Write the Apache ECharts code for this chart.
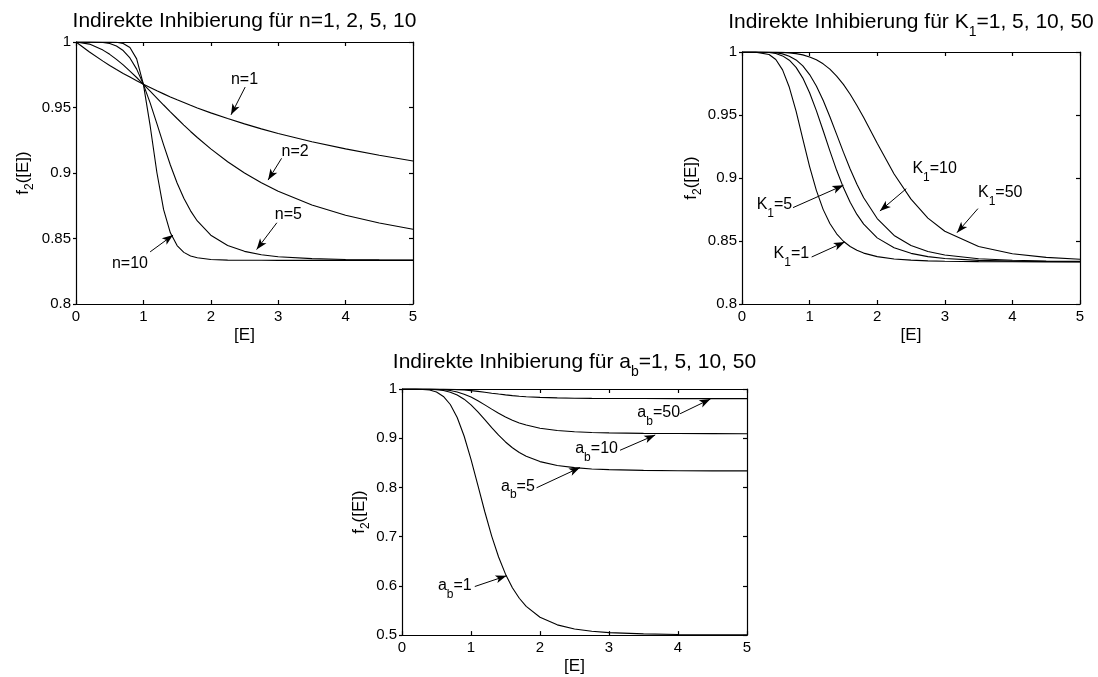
<!DOCTYPE html>
<html>
<head>
<meta charset="utf-8">
<script src="https://cdn.jsdelivr.net/npm/echarts@6/dist/echarts.min.js"></script>
<style>
  html, body { margin: 0; padding: 0; background: #fff; }
  #chart { width: 1098px; height: 677px; }
</style>
</head>
<body>
<div id="chart"></div>
<script>
// Concentration grid [E] shared by all curves
const E = [0, 0.2, 0.4, 0.5, 0.6, 0.7, 0.8, 0.9, 1.0, 1.1, 1.2, 1.3, 1.4, 1.5, 1.6, 1.7, 1.8, 2.0, 2.25, 2.5, 2.75, 3.0, 3.5, 4.0, 4.5, 5.0];

// Panel 1: Hill exponent n
const n1  = [1, 0.9924, 0.9854, 0.9821, 0.9790, 0.9760, 0.9732, 0.9704, 0.9677, 0.9652, 0.9627, 0.9604, 0.9581, 0.9559, 0.9538, 0.9517, 0.9497, 0.9459, 0.9416, 0.9375, 0.9337, 0.9302, 0.9239, 0.9184, 0.9135, 0.9091];
const n2  = [1, 0.9984, 0.9938, 0.9906, 0.9867, 0.9825, 0.9778, 0.9729, 0.9677, 0.9625, 0.9572, 0.9519, 0.9467, 0.9416, 0.9366, 0.9317, 0.9271, 0.9184, 0.9086, 0.9000, 0.8925, 0.8861, 0.8756, 0.8678, 0.8618, 0.8571];
const n5  = [1, 1.0000, 0.9996, 0.9988, 0.9969, 0.9935, 0.9878, 0.9793, 0.9677, 0.9535, 0.9377, 0.9215, 0.9061, 0.8924, 0.8807, 0.8711, 0.8634, 0.8525, 0.8446, 0.8402, 0.8376, 0.8361, 0.8346, 0.8340, 0.8337, 0.8336];
const n10 = [1, 1, 1, 1, 0.9998, 0.9989, 0.9958, 0.9871, 0.9677, 0.9361, 0.9004, 0.8720, 0.8543, 0.8446, 0.8394, 0.8367, 0.8353, 0.8340, 0.8335, 0.8334, 0.8334, 0.8333, 0.8333, 0.8333, 0.8333, 0.8333];

// Panel 2: constant K1
const k1  = [1, 0.9999, 0.9980, 0.9940, 0.9858, 0.9720, 0.9530, 0.9309, 0.9091, 0.8902, 0.8751, 0.8639, 0.8557, 0.8498, 0.8456, 0.8426, 0.8404, 0.8376, 0.8357, 0.8348, 0.8342, 0.8339, 0.8336, 0.8335, 0.8334, 0.8334];
const k5  = [1, 1.0000, 0.9996, 0.9988, 0.9969, 0.9935, 0.9878, 0.9793, 0.9677, 0.9535, 0.9377, 0.9215, 0.9061, 0.8924, 0.8807, 0.8711, 0.8634, 0.8525, 0.8446, 0.8402, 0.8376, 0.8361, 0.8346, 0.8340, 0.8337, 0.8336];
const k10 = [1, 1, 0.9998, 0.9994, 0.9985, 0.9967, 0.9937, 0.9890, 0.9821, 0.9730, 0.9617, 0.9486, 0.9346, 0.9205, 0.9071, 0.8950, 0.8843, 0.8678, 0.8544, 0.8464, 0.8417, 0.8389, 0.8359, 0.8347, 0.8341, 0.8338];
const k50 = [1, 1, 1.0000, 0.9999, 0.9997, 0.9993, 0.9987, 0.9977, 0.9961, 0.9938, 0.9906, 0.9864, 0.9809, 0.9743, 0.9665, 0.9576, 0.9480, 0.9276, 0.9032, 0.8832, 0.8682, 0.8577, 0.8456, 0.8399, 0.8370, 0.8355];

// Panel 3: factor a_b
const a1  = [1, 0.9999, 0.9980, 0.9938, 0.9849, 0.9685, 0.9421, 0.9045, 0.8571, 0.8041, 0.7506, 0.7012, 0.6587, 0.6238, 0.5963, 0.5749, 0.5584, 0.5362, 0.5208, 0.5125, 0.5078, 0.5051, 0.5024, 0.5012, 0.5007, 0.5004];
const a5  = [1, 1.0000, 0.9996, 0.9988, 0.9969, 0.9935, 0.9878, 0.9793, 0.9677, 0.9535, 0.9377, 0.9215, 0.9061, 0.8924, 0.8807, 0.8711, 0.8634, 0.8525, 0.8446, 0.8402, 0.8376, 0.8361, 0.8346, 0.8340, 0.8337, 0.8336];
const a10 = [1, 1, 0.9998, 0.9994, 0.9985, 0.9968, 0.9939, 0.9895, 0.9836, 0.9762, 0.9678, 0.9591, 0.9507, 0.9431, 0.9366, 0.9311, 0.9267, 0.9204, 0.9157, 0.9131, 0.9116, 0.9108, 0.9099, 0.9095, 0.9093, 0.9092];
const a50 = [1, 1, 1, 0.9999, 0.9997, 0.9994, 0.9988, 0.9979, 0.9967, 0.9952, 0.9934, 0.9915, 0.9897, 0.9881, 0.9866, 0.9854, 0.9844, 0.9830, 0.9819, 0.9813, 0.9810, 0.9808, 0.9806, 0.9805, 0.9804, 0.9804];

// Axis ranges per panel: [min, max, interval]
const xRange = [0, 5, 1];
const yRanges = [[0.8, 1, 0.05], [0.8, 1, 0.05], [0.5, 1, 0.1]];

// Panel titles and axis names (rich-text markup for subscripts)
const titles = [
  '{m|Indirekte Inhibierung für n=1, 2, 5, 10}',
  '{m|Indirekte Inhibierung für K}{s|1}{m|=1, 5, 10, 50}',
  '{m|Indirekte Inhibierung für a}{s|b}{m|=1, 5, 10, 50}'
];
const xName = '[E]';
const yName = '{m|f}{s|2}{m|([E])}';

// Curves per panel
const panels = [
  [n1, n2, n5, n10],
  [k1, k5, k10, k50],
  [a1, a5, a10, a50]
];

// Arrow annotations in data units: label anchor, arrow tail, arrow head
const notes = [
  [
    { text: '{m|n=1}',  at: [2.50, 0.9712], from: [2.51, 0.9656], to: [2.30, 0.9444] },
    { text: '{m|n=2}',  at: [3.25, 0.9163], from: [3.05, 0.9112], to: [2.85, 0.8946] },
    { text: '{m|n=5}',  at: [3.15, 0.8679], from: [2.98, 0.8620], to: [2.68, 0.8416] },
    { text: '{m|n=10}', at: [0.80, 0.8309], from: [1.10, 0.8398], to: [1.44, 0.8526] }
  ],
  [
    { text: '{m|K}{s|1}{m|=10}', at: [2.85, 0.9074], from: [2.43, 0.8915], to: [2.04, 0.8738] },
    { text: '{m|K}{s|1}{m|=50}', at: [3.82, 0.8881], from: [3.49, 0.8757], to: [3.18, 0.8566] },
    { text: '{m|K}{s|1}{m|=5}',  at: [0.48, 0.8791], from: [0.755, 0.8765], to: [1.50, 0.8942] },
    { text: '{m|K}{s|1}{m|=1}',  at: [0.73, 0.8399], from: [1.03, 0.8373], to: [1.52, 0.8492] }
  ],
  [
    { text: '{m|a}{s|b}{m|=50}', at: [3.72, 0.9517], from: [4.03, 0.9497], to: [4.47, 0.9795] },
    { text: '{m|a}{s|b}{m|=10}', at: [2.82, 0.8788], from: [3.16, 0.8755], to: [3.67, 0.9066] },
    { text: '{m|a}{s|b}{m|=5}',  at: [1.68, 0.8026], from: [1.95, 0.7993], to: [2.58, 0.8404] },
    { text: '{m|a}{s|b}{m|=1}',  at: [0.765, 0.6007], from: [1.055, 0.5987], to: [1.515, 0.6205] }
  ]
];

// ---- layout and styling ----
const FONT = 'Liberation Sans, Arial, Helvetica, sans-serif';
const BLACK = '#000';
const grids = [
  { left: 76,  top: 42,  width: 337, height: 262 },
  { left: 742, top: 52,  width: 338, height: 252 },
  { left: 402, top: 389, width: 345, height: 252 }
];
const titleY = [21.5, 22.5, 362.5];
const yNameGap = [41, 35, 31];
const xNameGap = [15, 17, 18];

function richSet(size, subSize, shift, lh, useFill) {
  const c = useFill ? { fill: BLACK } : { color: BLACK };
  return {
    m: Object.assign({ fontFamily: FONT, fontSize: size, lineHeight: lh, verticalAlign: 'middle' }, c),
    s: Object.assign({ fontFamily: FONT, fontSize: subSize, lineHeight: lh, verticalAlign: 'middle', padding: [shift * 2, 0, 0, 0] }, c)
  };
}

const axisLineStyle = { color: BLACK, width: 1.2 };
const tickLabel = { fontFamily: FONT, fontSize: 15, color: BLACK };

const xAxes = [], yAxes = [], series = [], graphics = [];

grids.forEach((g, i) => {
  const [ymin, ymax, yint] = yRanges[i];
  // bottom axis with labels
  xAxes.push({
    gridIndex: i, type: 'value', position: 'bottom',
    min: xRange[0], max: xRange[1], interval: xRange[2],
    axisLine: { onZero: false, lineStyle: axisLineStyle },
    axisTick: { inside: true, length: 4, lineStyle: axisLineStyle },
    axisLabel: Object.assign({ margin: 5 }, tickLabel),
    splitLine: { show: false },
    name: xName, nameLocation: 'middle', nameGap: xNameGap[i],
    nameTextStyle: { fontFamily: FONT, fontSize: 17, color: BLACK, lineHeight: 20 }
  });
  // top frame edge
  xAxes.push({
    gridIndex: i, type: 'value', position: 'top',
    min: xRange[0], max: xRange[1], interval: xRange[2],
    axisLine: { onZero: false, lineStyle: axisLineStyle },
    axisTick: { inside: true, length: 4, lineStyle: axisLineStyle },
    axisLabel: { show: false }, splitLine: { show: false }
  });
  // left axis with labels
  yAxes.push({
    gridIndex: i, type: 'value', position: 'left',
    min: ymin, max: ymax, interval: yint,
    axisLine: { onZero: false, lineStyle: axisLineStyle },
    axisTick: { inside: false, length: 3, lineStyle: axisLineStyle },
    axisLabel: Object.assign({ margin: 5, formatter: v => String(+v.toFixed(2)) }, tickLabel),
    splitLine: { show: false },
    name: yName, nameLocation: 'middle', nameGap: yNameGap[i],
    nameTextStyle: { fontFamily: FONT, fontSize: 17, color: BLACK, rich: richSet(17, 12, 7, 24, false) }
  });
  // right frame edge
  yAxes.push({
    gridIndex: i, type: 'value', position: 'right',
    min: ymin, max: ymax, interval: yint,
    axisLine: { onZero: false, lineStyle: axisLineStyle },
    axisTick: { inside: true, length: 4, lineStyle: axisLineStyle },
    axisLabel: { show: false }, splitLine: { show: false }
  });

  panels[i].forEach(vals => {
    series.push({
      type: 'line', xAxisIndex: 2 * i, yAxisIndex: 2 * i,
      data: E.map((x, k) => [x, vals[k]]),
      showSymbol: false, symbol: 'none',
      smooth: false,
      lineStyle: { color: BLACK, width: 1.1 },
      silent: true
    });
  });

  // annotation labels and arrows
  series.push({
    type: 'scatter', xAxisIndex: 2 * i, yAxisIndex: 2 * i,
    symbol: 'circle', symbolSize: 0, silent: true, z: 5,
    itemStyle: { color: BLACK, opacity: 1 },
    data: notes[i].map(n => ({ value: n.at, label: { formatter: n.text } })),
    label: {
      show: true, position: 'inside', opacity: 1,
      fontFamily: FONT, fontSize: 16, color: BLACK,
      rich: richSet(16, 12, 9, 20, false)
    },
    markLine: {
      silent: true, animation: false,
      symbol: ['none', 'arrow'], symbolSize: [6, 11],
      label: { show: false },
      itemStyle: { color: BLACK, opacity: 1 },
      lineStyle: { color: BLACK, width: 1, type: 'solid', opacity: 1 },
      emphasis: { disabled: true },
      data: notes[i].map(n => [{ coord: n.from }, { coord: n.to }])
    }
  });

  graphics.push({
    type: 'text',
    x: g.left + g.width / 2, y: titleY[i],
    silent: true,
    style: {
      text: titles[i], fontFamily: FONT, fontSize: 21, fill: BLACK,
      align: 'center', verticalAlign: 'middle',
      rich: richSet(21, 14, 10, 26, true)
    }
  });
});

const chart = echarts.init(document.getElementById('chart'), null, { renderer: 'canvas' });
chart.setOption({
  animation: false,
  backgroundColor: '#fff',
  grid: grids.map(g => Object.assign({ containLabel: false }, g)),
  xAxis: xAxes,
  yAxis: yAxes,
  series: series,
  graphic: graphics
});
</script>
</body>
</html>
